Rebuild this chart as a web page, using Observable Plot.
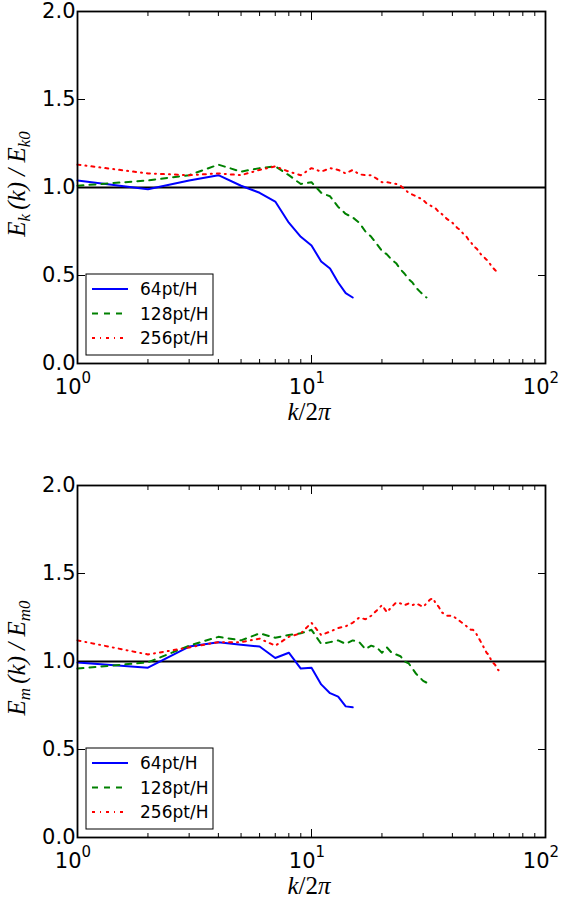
<!DOCTYPE html>
<html><head><meta charset="utf-8">
<script src="https://cdn.jsdelivr.net/npm/d3@7"></script>
<script src="https://cdn.jsdelivr.net/npm/@observablehq/plot@0.6"></script>
<style>body{margin:0;background:#fff} svg{display:block;overflow:visible}</style>
</head><body><div id="c"></div><script>
// wavenumbers k/2pi for each resolution
const k64 = [1,2,3,4,5,6,7,8,9,10,11,12,13,14,15];
const k128 = [1,2,3,4,5,6,7,8,9,10,11,12,13,14,15,16,17,18,19,20,21,22,23,24,25,26,27,28,29,30,31];
const k256 = [1,2,3,4,5,6,7,8,9,10,11,12,13,14,15,16,17,18,19,20,21,22,23,24,25,26,27,28,29,30,31,32,33,34,35,36,37,38,39,40,41,42,43,44,45,46,47,48,49,50,51,52,53,54,55,56,57,58,59,60,61,62,63];

// kinetic energy ratio
const ek64 = [1.04,0.99,1.04,1.07,1.01,0.97,0.92,0.80,0.72,0.67,0.58,0.54,0.46,0.40,0.375];
const ek128 = [1.01,1.04,1.07,1.13,1.09,1.11,1.12,1.07,1.02,1.03,0.97,0.95,0.89,0.85,0.83,0.80,0.75,0.72,0.68,0.64,0.62,0.59,0.57,0.535,0.51,0.48,0.46,0.43,0.41,0.39,0.375];
const ek256 = [1.13,1.08,1.07,1.08,1.07,1.10,1.12,1.09,1.07,1.11,1.09,1.11,1.10,1.08,1.10,1.075,1.07,1.07,1.05,1.03,1.03,1.025,1.02,1.01,0.99,0.97,0.96,0.95,0.94,0.93,0.91,0.90,0.89,0.88,0.86,0.85,0.835,0.82,0.81,0.80,0.785,0.77,0.76,0.745,0.73,0.72,0.70,0.69,0.67,0.66,0.65,0.635,0.62,0.61,0.60,0.59,0.58,0.565,0.55,0.54,0.53,0.52,0.505];

// magnetic energy ratio
const em64 = [0.995,0.965,1.085,1.11,1.095,1.085,1.02,1.05,0.96,0.965,0.87,0.82,0.80,0.745,0.74];
const em128 = [0.96,0.995,1.09,1.14,1.12,1.16,1.135,1.15,1.16,1.18,1.10,1.11,1.12,1.10,1.12,1.11,1.07,1.09,1.08,1.05,1.08,1.05,1.04,1.03,1.00,0.99,0.96,0.93,0.91,0.89,0.88];
const em256 = [1.12,1.04,1.08,1.11,1.11,1.13,1.09,1.14,1.16,1.22,1.15,1.17,1.19,1.20,1.22,1.25,1.24,1.26,1.29,1.32,1.28,1.31,1.335,1.33,1.32,1.33,1.32,1.33,1.32,1.31,1.33,1.35,1.36,1.33,1.31,1.28,1.27,1.26,1.26,1.26,1.25,1.24,1.23,1.22,1.21,1.20,1.19,1.18,1.18,1.17,1.15,1.13,1.11,1.09,1.07,1.05,1.04,1.02,1.00,0.99,0.98,0.96,0.95];

const seriesNames = ["64pt/H","128pt/H","256pt/H"];
const seriesColors = ["#0000ff","#008000","#ff0000"];
const seriesDash = [null,"6,6","3,5,1,5"];

const xMajor = [1,10,100];
const xMajorExp = ["0","1","2"];
const xMinor = [2,3,4,5,6,7,8,9,20,30,40,50,60,70,80,90];
const yTicks = [0,0.5,1.0,1.5,2.0];

function panel(ks, vals, ylab, mTop, mBottom) {
  const marks = [
    Plot.ruleY([1], {stroke:"black", strokeWidth:2}),
  ];
  vals.forEach((v, s) => {
    marks.push(Plot.line(v, {x:(d,i)=>ks[s][i], y:d=>d, stroke:seriesColors[s], strokeWidth:2, strokeDasharray:seriesDash[s]}));
  });
  marks.push(
    Plot.frame({stroke:"black", strokeWidth:1.8}),
    Plot.axisX(xMajor, {anchor:"bottom", tickSize:-8, text:null, label:null, strokeWidth:1}),
    Plot.axisX(xMajor, {anchor:"top", tickSize:-8, text:null, label:null, strokeWidth:1}),
    Plot.axisX(xMinor, {anchor:"bottom", tickSize:-4, text:null, label:null, strokeWidth:1}),
    Plot.axisX(xMinor, {anchor:"top", tickSize:-4, text:null, label:null, strokeWidth:1}),
    Plot.axisY(yTicks, {anchor:"left", tickSize:-8, text:null, label:null, strokeWidth:1}),
    Plot.axisY(yTicks, {anchor:"right", tickSize:-8, text:null, label:null, strokeWidth:1}),
    Plot.axisY(yTicks, {anchor:"left", tickSize:0, tickPadding:2, tickFormat:d3.format(".1f"), label:null, fontSize:21, fill:"black"}),
    Plot.text(xMajor, {x:d=>d, frameAnchor:"bottom", text:()=>"10", textAnchor:"end", lineAnchor:"bottom", dx:4, dy:30, fontSize:21, fill:"black"}),
    Plot.text(xMajor, {x:d=>d, frameAnchor:"bottom", text:(d,i)=>xMajorExp[i], textAnchor:"start", lineAnchor:"bottom", dx:4, dy:19, fontSize:15, fill:"black"})
  );
  const svg = Plot.plot({
    width:564, height:451,
    marginLeft:77, marginRight:19, marginTop:mTop, marginBottom:mBottom,
    style:{fontFamily:"DejaVu Sans", background:"white", color:"black"},
    x:{type:"log", domain:[1,100], label:null, axis:null},
    y:{domain:[0,2], label:null, axis:null},
    marks
  });
  const s = d3.select(svg);
  const H = 451, bottom = H - mBottom, top = mTop;
  const math = "Liberation Serif";
  // y label
  const yl = s.append("text")
    .attr("transform", `translate(25,${(top+bottom)/2 - 3}) rotate(-90)`)
    .attr("text-anchor","middle").attr("font-family", math).attr("font-style","italic")
    .attr("font-size", 25).attr("fill","black");
  ylab.forEach(p => {
    const t = yl.append("tspan").text(p.t);
    if (p.sub) t.attr("font-size", 17).attr("dy", 5);
    if (p.up) t.attr("dy", -5);
  });
  // x label
  const xl = s.append("text").attr("x", 77 + 232).attr("y", bottom + 57)
    .attr("text-anchor","middle").attr("font-family", math).attr("font-size", 25).attr("fill","black");
  xl.append("tspan").attr("font-style","italic").text("k");
  xl.append("tspan").text("/2");
  xl.append("tspan").attr("font-style","italic").text("π");
  // legend
  const g = s.append("g").attr("transform", `translate(86,${bottom-89})`);
  g.append("rect").attr("width",127).attr("height",81).attr("fill","white").attr("stroke","black").attr("stroke-width",1);
  seriesNames.forEach((n,i) => {
    const y = 15 + i*24.5;
    g.append("line").attr("x1",6).attr("x2",42).attr("y1",y).attr("y2",y)
      .attr("stroke",seriesColors[i]).attr("stroke-width",2).attr("stroke-dasharray",seriesDash[i]);
    g.append("text").attr("x",54).attr("y",y+6).attr("text-anchor","start").attr("font-family","DejaVu Sans").attr("font-size",17).attr("fill","black").text(n);
  });
  return svg;
}

const c = document.getElementById("c");
c.append(panel([k64,k128,k256],[ek64,ek128,ek256],
  [{t:"E"},{t:"k ",sub:true},{t:"(k) / E",up:true},{t:"k0",sub:true}], 11, 88));
c.append(panel([k64,k128,k256],[em64,em128,em256],
  [{t:"E"},{t:"m ",sub:true},{t:"(k) / E",up:true},{t:"m0",sub:true}], 34, 65));
</script></body></html>
